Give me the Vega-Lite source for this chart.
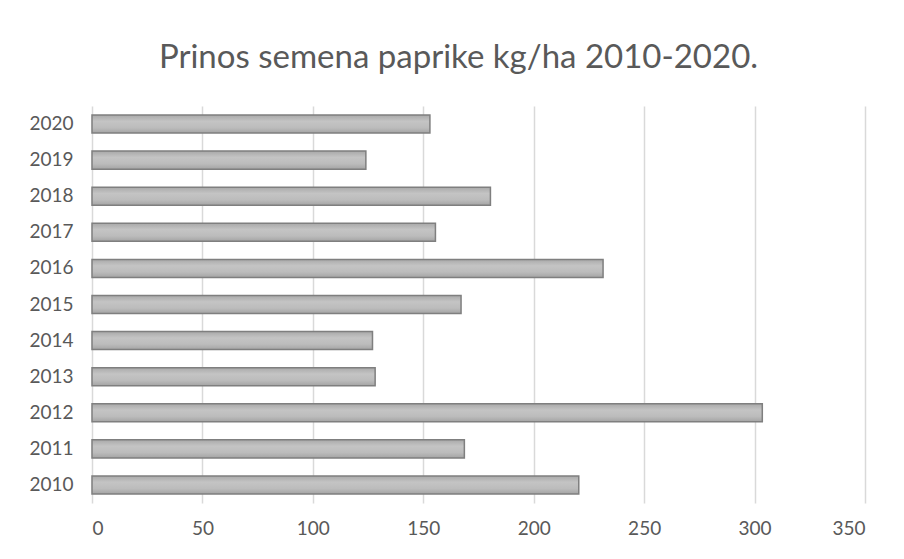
{
  "$schema": "https://vega.github.io/schema/vega-lite/v6.json",
  "width": 773,
  "height": 397,
  "autosize": {"type": "none"},
  "padding": {"left": 92, "top": 106, "right": 39, "bottom": 56},
  "background": "white",
  "title": {
    "text": "Prinos semena paprike kg/ha 2010-2020.",
    "font": "Lato",
    "fontSize": 33,
    "fontWeight": "normal",
    "color": "#595959",
    "anchor": "middle",
    "baseline": "bottom",
    "offset": -2,
    "dx": -20
  },
  "data": {
    "values": [
      {"godina": "2010", "prinos": 220.4},
      {"godina": "2011", "prinos": 168.6},
      {"godina": "2012", "prinos": 303.5},
      {"godina": "2013", "prinos": 128.2},
      {"godina": "2014", "prinos": 127},
      {"godina": "2015", "prinos": 167.1},
      {"godina": "2016", "prinos": 231.4},
      {"godina": "2017", "prinos": 155.5},
      {"godina": "2018", "prinos": 180.4},
      {"godina": "2019", "prinos": 124},
      {"godina": "2020", "prinos": 153}
    ]
  },
  "mark": {
    "type": "bar",
    "color": {
      "gradient": "linear",
      "x1": 0, "y1": 0, "x2": 0, "y2": 1,
      "stops": [
        {"offset": 0, "color": "#a9a9a9"},
        {"offset": 0.35, "color": "#c4c4c4"},
        {"offset": 0.7, "color": "#bcbcbc"},
        {"offset": 1, "color": "#a4a4a4"}
      ]
    },
    "stroke": "#7f7f7f",
    "strokeWidth": 1.5
  },
  "encoding": {
    "y": {
      "field": "godina",
      "type": "nominal",
      "sort": "descending",
      "scale": {"paddingInner": 0.5, "paddingOuter": 0.25},
      "axis": {
        "title": null,
        "ticks": false,
        "domain": false,
        "labelFont": "Lato",
        "labelFontSize": 19,
        "labelColor": "#595959",
        "labelPadding": 19
      }
    },
    "x": {
      "field": "prinos",
      "type": "quantitative",
      "scale": {"domain": [0, 350], "nice": false},
      "axis": {
        "title": null,
        "values": [0, 50, 100, 150, 200, 250, 300, 350],
        "ticks": false,
        "domain": false,
        "grid": true,
        "gridColor": "#d9d9d9",
        "gridWidth": 1.5,
        "labelFont": "Lato",
        "labelFontSize": 19,
        "labelColor": "#595959",
        "labelPadding": 16
      }
    }
  },
  "config": {"view": {"stroke": null}}
}
